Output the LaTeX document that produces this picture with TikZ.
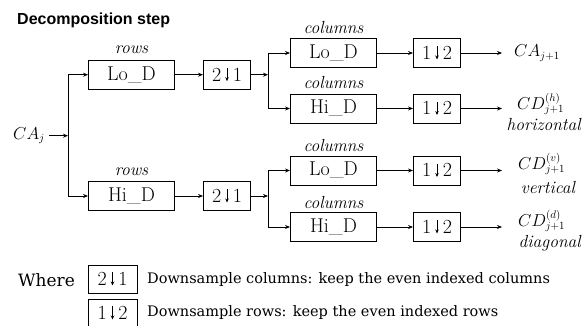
\documentclass[tikz,border=0pt]{standalone}
\usepackage{fontspec}
\newfontfamily\legfont{DejaVu Serif}
\newfontfamily\titlefont{Liberation Sans}
\usetikzlibrary{arrows.meta}
\tikzset{
 blk/.style={draw, line width=0.9pt, minimum height=29pt, inner sep=0pt, font=\fontsize{20}{24}\selectfont},
 filt/.style={blk, minimum width=86pt},
 dsbox/.style={blk, minimum width=47pt},
 conn/.style={line width=0.8pt},
 arr/.style={conn, -{Stealth[length=5pt,width=4pt]}},
 lbl/.style={font=\fontsize{17.5}{20}\selectfont\itshape, inner sep=0pt},
 mlbl/.style={font=\fontsize{16}{18}\selectfont, inner sep=0pt},
 legtext/.style={font=\legfont\fontsize{14.5}{17}\selectfont, anchor=west, inner sep=0pt},
}
\newcommand{\dsym}[2]{#1\hspace{4pt}\tikz[baseline=0pt]\draw[line width=0.7pt,-{Stealth[length=4pt,width=3.5pt]}] (0pt,13pt)--(0pt,0pt);\hspace{4pt}#2}
\begin{document}
\begin{tikzpicture}[x=1pt,y=-1pt]
\useasboundingbox (0,0) rectangle (582,326);
\node[font=\titlefont\bfseries\fontsize{16}{18}\selectfont, anchor=west, inner sep=0pt] (title) at (17,20) {Decomposition step};
% input
\node[mlbl, anchor=west, inner xsep=4pt] (in) at (9,135.7) {$CA_j$};
\coordinate (b1) at (68,135.7);
\coordinate (b1t) at (68,74.7);
\coordinate (b1b) at (68,196);
% row filters
\node[filt] (rl) at (131.5,74.7) {Lo\_D};
\node[filt] (rh) at (131.5,196) {Hi\_D};
\node[lbl] (lr1) at (131.5,50) {rows};
\node[lbl] (lr2) at (131.5,172) {rows};
\node[dsbox] (d1) at (227,74.7) {\dsym21};
\node[dsbox] (d2) at (227,196) {\dsym21};
\coordinate (b2) at (268,74.7);
\coordinate (b2t) at (268,53);
\coordinate (b2b) at (268,108.5);
\coordinate (b3) at (268,196);
\coordinate (b3t) at (268,170.5);
\coordinate (b3b) at (268,227);
% column filters
\node[filt] (c1) at (333.5,53) {Lo\_D};
\node[filt] (c2) at (333.5,108.5) {Hi\_D};
\node[filt] (c3) at (333.5,170.5) {Lo\_D};
\node[filt] (c4) at (333.5,227) {Hi\_D};
\node[lbl] (lc1) at (333.5,28) {columns};
\node[lbl] (lc2) at (333.5,83) {columns};
\node[lbl] (lc3) at (333.5,146) {columns};
\node[lbl] (lc4) at (333.5,203) {columns};
\node[dsbox] (e1) at (437,53) {\dsym12};
\node[dsbox] (e2) at (437,108.5) {\dsym12};
\node[dsbox] (e3) at (437,170.5) {\dsym12};
\node[dsbox] (e4) at (437,227) {\dsym12};
\coordinate (o1) at (502,53);
\coordinate (o2) at (502,108.5);
\coordinate (o3) at (502,170.5);
\coordinate (o4) at (502,227);
% outputs
\node[mlbl, anchor=west] (t1) at (514,53) {$CA_{j+1}$};
\node[mlbl, anchor=west] (t2) at (517,104) {$CD^{(h)}_{j+1}$};
\node[lbl, anchor=east] (s2) at (581,125) {horizontal};
\node[mlbl, anchor=west] (t3) at (518,164) {$CD^{(v)}_{j+1}$};
\node[lbl] (s3) at (548,188) {vertical};
\node[mlbl, anchor=west] (t4) at (518,221) {$CD^{(d)}_{j+1}$};
\node[lbl, anchor=east] (s4) at (581,243) {diagonal};
% connectors
\draw[arr] (in.east) -- (b1);
\draw[conn] (b1t) -- (b1b);
\draw[arr] (b1t) -- (rl);
\draw[arr] (b1b) -- (rh);
\draw[arr] (rl) -- (d1);
\draw[arr] (rh) -- (d2);
\draw[arr] (d1) -- (b2);
\draw[arr] (d2) -- (b3);
\draw[conn] (b2t) -- (b2b);
\draw[conn] (b3t) -- (b3b);
\draw[arr] (b2t) -- (c1);
\draw[arr] (b2b) -- (c2);
\draw[arr] (b3t) -- (c3);
\draw[arr] (b3b) -- (c4);
\draw[arr] (c1) -- (e1);
\draw[arr] (c2) -- (e2);
\draw[arr] (c3) -- (e3);
\draw[arr] (c4) -- (e4);
\draw[arr] (e1) -- (o1);
\draw[arr] (e2) -- (o2);
\draw[arr] (e3) -- (o3);
\draw[arr] (e4) -- (o4);
% legend
\node[font=\legfont\fontsize{17}{20}\selectfont, anchor=west, inner sep=0pt] (where) at (18,280) {Where};
\node[dsbox, minimum width=49pt, minimum height=28pt] (k1) at (112.5,279) {\dsym21};
\node[dsbox, minimum width=49pt, minimum height=28pt] (k2) at (112.5,313) {\dsym12};
\node[legtext] (x1) at (147,280) {Downsample columns: keep the even indexed columns};
\node[legtext] (x2) at (147,313) {Downsample rows: keep the even indexed rows};
\end{tikzpicture}
\end{document}
